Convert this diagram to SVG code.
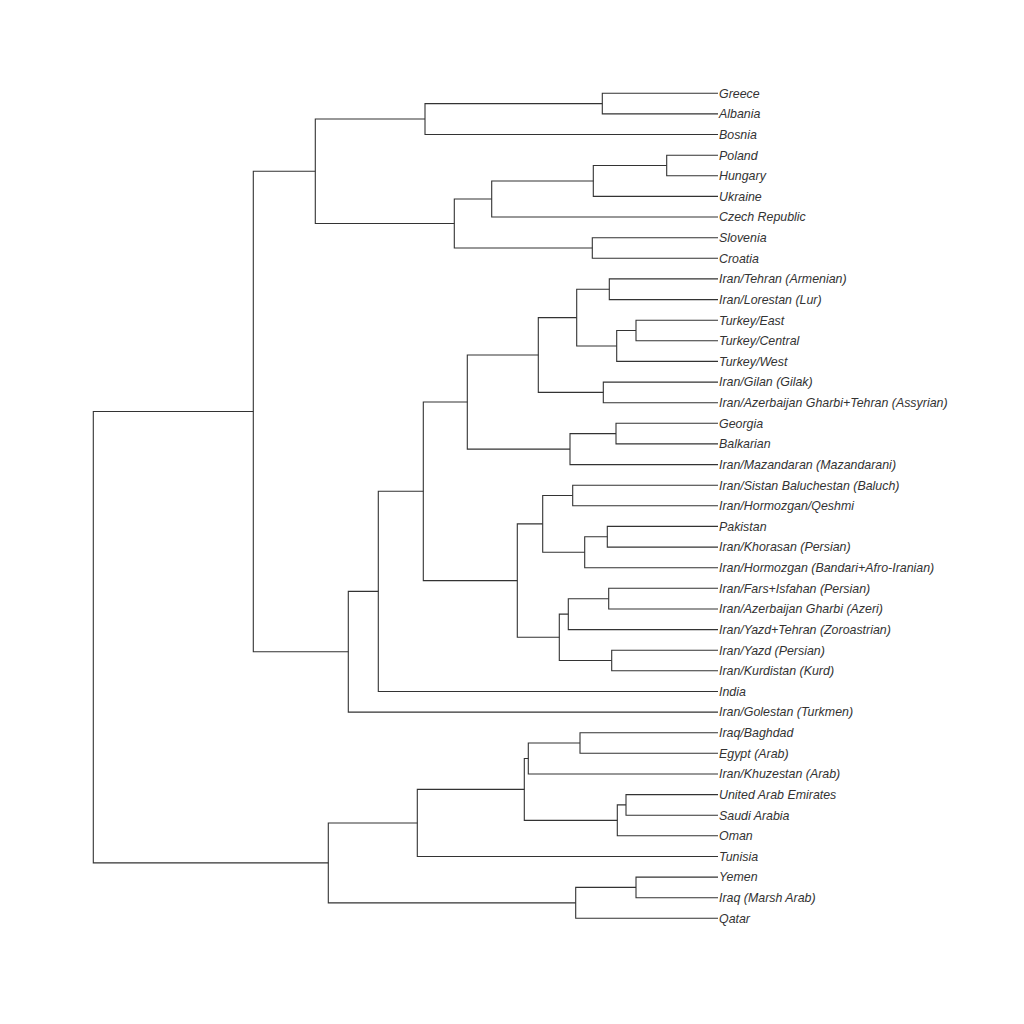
<svg xmlns="http://www.w3.org/2000/svg" width="1024" height="1024" viewBox="0 0 1024 1024">
<style>
.c{fill:none;stroke:#333;stroke-width:1.1}
.t{font-family:"Liberation Sans",Arial,sans-serif;font-style:italic;font-size:12.4px;fill:#333}
</style>
<rect width="1024" height="1024" fill="#fff"/>
<g id="connectors">
<path class="c" d="M718,93.3H602.3V113.9H718"/>
<path class="c" d="M602.3,103.6H425V134.5H718"/>
<path class="c" d="M718,155.2H666.7V175.8H718"/>
<path class="c" d="M666.7,165.5H593.3V196.4H718"/>
<path class="c" d="M593.3,181H491.7V217H718"/>
<path class="c" d="M718,237.7H592.3V258.3H718"/>
<path class="c" d="M491.7,199H454.3V248H592.3"/>
<path class="c" d="M425,119H315.3V223.5H454.3"/>
<path class="c" d="M718,278.9H609.3V299.6H718"/>
<path class="c" d="M718,320.2H636V340.8H718"/>
<path class="c" d="M636,330.5H616.7V361.4H718"/>
<path class="c" d="M609.3,289.3H576.7V346H616.7"/>
<path class="c" d="M718,382.1H603.3V402.7H718"/>
<path class="c" d="M576.7,317.6H538.3V392.4H603.3"/>
<path class="c" d="M718,423.3H616V443.9H718"/>
<path class="c" d="M616,433.6H570V464.6H718"/>
<path class="c" d="M538.3,355H467.3V449.1H570"/>
<path class="c" d="M718,485.2H572.7V505.8H718"/>
<path class="c" d="M718,526.4H607.3V547.1H718"/>
<path class="c" d="M607.3,536.8H584.7V567.7H718"/>
<path class="c" d="M572.7,495.5H542.7V552.2H584.7"/>
<path class="c" d="M718,588.3H608.7V609H718"/>
<path class="c" d="M608.7,598.7H568.3V629.6H718"/>
<path class="c" d="M718,650.2H611.7V670.8H718"/>
<path class="c" d="M568.3,614.1H559.3V660.5H611.7"/>
<path class="c" d="M542.7,523.9H517.3V637.3H559.3"/>
<path class="c" d="M467.3,402H423.3V580.6H517.3"/>
<path class="c" d="M423.3,491.3H378.3V691.5H718"/>
<path class="c" d="M378.3,591.4H348.3V712.1H718"/>
<path class="c" d="M315.3,171.3H253.3V651.7H348.3"/>
<path class="c" d="M718,732.7H580V753.3H718"/>
<path class="c" d="M580,743H528.3V774H718"/>
<path class="c" d="M718,794.6H626V815.2H718"/>
<path class="c" d="M626,804.9H617.3V835.8H718"/>
<path class="c" d="M528.3,758.5H524.3V820.4H617.3"/>
<path class="c" d="M524.3,789.4H417.3V856.5H718"/>
<path class="c" d="M718,877.1H636V897.7H718"/>
<path class="c" d="M636,887.4H575.7V918.3H718"/>
<path class="c" d="M417.3,823H328.3V902.9H575.7"/>
<path class="c" d="M253.3,411.5H93.3V862.9H328.3"/>
</g>
<g id="leaf-greece"><text class="t" x="719" y="97.6">Greece</text></g>
<g id="leaf-albania"><text class="t" x="719" y="118.2">Albania</text></g>
<g id="leaf-bosnia"><text class="t" x="719" y="138.8">Bosnia</text></g>
<g id="leaf-poland"><text class="t" x="719" y="159.5">Poland</text></g>
<g id="leaf-hungary"><text class="t" x="719" y="180.1">Hungary</text></g>
<g id="leaf-ukraine"><text class="t" x="719" y="200.7">Ukraine</text></g>
<g id="leaf-czech"><text class="t" x="719" y="221.3">Czech Republic</text></g>
<g id="leaf-slovenia"><text class="t" x="719" y="242">Slovenia</text></g>
<g id="leaf-croatia"><text class="t" x="719" y="262.6">Croatia</text></g>
<g id="leaf-tehran-armenian"><text class="t" x="719" y="283.2">Iran/Tehran (Armenian)</text></g>
<g id="leaf-lorestan"><text class="t" x="719" y="303.9">Iran/Lorestan (Lur)</text></g>
<g id="leaf-turkey-east"><text class="t" x="719" y="324.5">Turkey/East</text></g>
<g id="leaf-turkey-central"><text class="t" x="719" y="345.1">Turkey/Central</text></g>
<g id="leaf-turkey-west"><text class="t" x="719" y="365.7">Turkey/West</text></g>
<g id="leaf-gilan"><text class="t" x="719" y="386.4">Iran/Gilan (Gilak)</text></g>
<g id="leaf-azerbaijan-assyrian"><text class="t" x="719" y="407">Iran/Azerbaijan Gharbi+Tehran (Assyrian)</text></g>
<g id="leaf-georgia"><text class="t" x="719" y="427.6">Georgia</text></g>
<g id="leaf-balkarian"><text class="t" x="719" y="448.2">Balkarian</text></g>
<g id="leaf-mazandaran"><text class="t" x="719" y="468.9">Iran/Mazandaran (Mazandarani)</text></g>
<g id="leaf-sistan"><text class="t" x="719" y="489.5">Iran/Sistan Baluchestan (Baluch)</text></g>
<g id="leaf-qeshmi"><text class="t" x="719" y="510.1">Iran/Hormozgan/Qeshmi</text></g>
<g id="leaf-pakistan"><text class="t" x="719" y="530.7">Pakistan</text></g>
<g id="leaf-khorasan"><text class="t" x="719" y="551.4">Iran/Khorasan (Persian)</text></g>
<g id="leaf-bandari"><text class="t" x="719" y="572">Iran/Hormozgan (Bandari+Afro-Iranian)</text></g>
<g id="leaf-fars"><text class="t" x="719" y="592.6">Iran/Fars+Isfahan (Persian)</text></g>
<g id="leaf-azeri"><text class="t" x="719" y="613.3">Iran/Azerbaijan Gharbi (Azeri)</text></g>
<g id="leaf-zoroastrian"><text class="t" x="719" y="633.9">Iran/Yazd+Tehran (Zoroastrian)</text></g>
<g id="leaf-yazd"><text class="t" x="719" y="654.5">Iran/Yazd (Persian)</text></g>
<g id="leaf-kurdistan"><text class="t" x="719" y="675.1">Iran/Kurdistan (Kurd)</text></g>
<g id="leaf-india"><text class="t" x="719" y="695.8">India</text></g>
<g id="leaf-golestan"><text class="t" x="719" y="716.4">Iran/Golestan (Turkmen)</text></g>
<g id="leaf-baghdad"><text class="t" x="719" y="737">Iraq/Baghdad</text></g>
<g id="leaf-egypt"><text class="t" x="719" y="757.6">Egypt (Arab)</text></g>
<g id="leaf-khuzestan"><text class="t" x="719" y="778.3">Iran/Khuzestan (Arab)</text></g>
<g id="leaf-uae"><text class="t" x="719" y="798.9">United Arab Emirates</text></g>
<g id="leaf-saudi"><text class="t" x="719" y="819.5">Saudi Arabia</text></g>
<g id="leaf-oman"><text class="t" x="719" y="840.1">Oman</text></g>
<g id="leaf-tunisia"><text class="t" x="719" y="860.8">Tunisia</text></g>
<g id="leaf-yemen"><text class="t" x="719" y="881.4">Yemen</text></g>
<g id="leaf-iraq-marsh"><text class="t" x="719" y="902">Iraq (Marsh Arab)</text></g>
<g id="leaf-qatar"><text class="t" x="719" y="922.6">Qatar</text></g>
</svg>
